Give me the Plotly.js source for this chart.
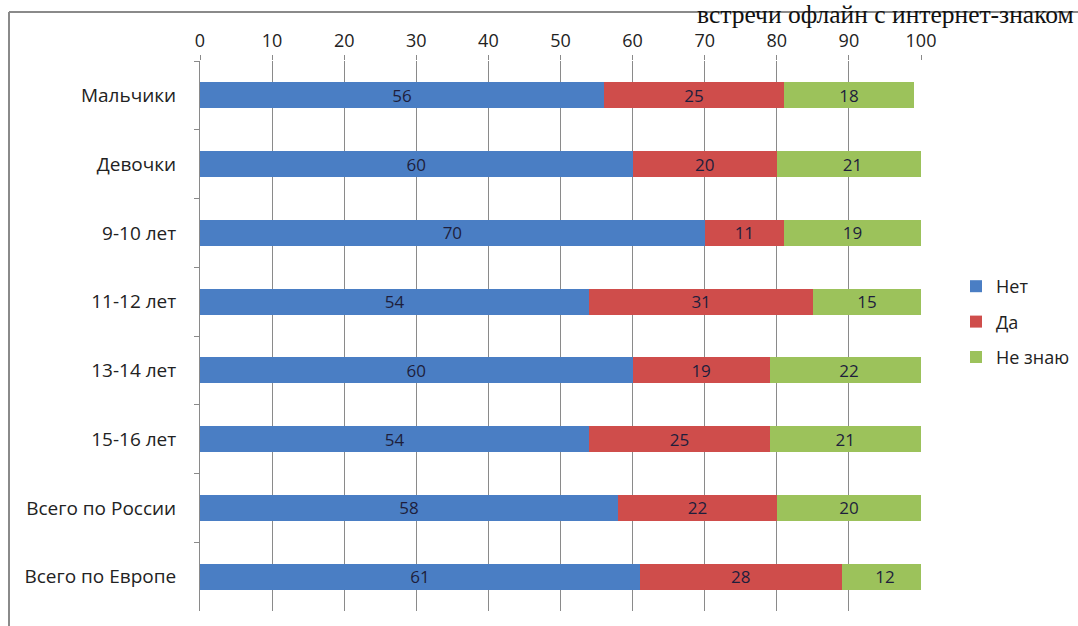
<!DOCTYPE html>
<html>
<head>
<meta charset="utf-8">
<script src="https://cdn.plot.ly/plotly-3.0.1.min.js"></script>
<style>html,body{margin:0;padding:0;background:#fff;}#chart{width:1078px;height:626px;}</style>
</head>
<body>
<div id="chart"></div>
<script>
const categories = ["Мальчики", "Девочки", "9-10 лет", "11-12 лет", "13-14 лет", "15-16 лет", "Всего по России", "Всего по Европе"];
const seriesNames = ["Нет", "Да", "Не знаю"];
const net = [56, 60, 70, 54, 60, 54, 58, 61];
const da = [25, 20, 11, 31, 19, 25, 22, 28];
const neZnayu = [18, 21, 19, 15, 22, 21, 20, 12];
const xTicks = [0, 10, 20, 30, 40, 50, 60, 70, 80, 90, 100];
const titleText = "встречи офлайн с интернет-знаком";

const colors = ["#4a7ec4", "#cf4d4b", "#9cc25b"];
const values = [net, da, neZnayu];
const FONT = "'Open Sans', Lato, sans-serif";

const traces = values.map((v, i) => ({
  type: "bar",
  orientation: "h",
  name: seriesNames[i],
  legendgroup: "g" + i,
  x: v,
  y: categories,
  text: v.map(String),
  textposition: "inside",
  insidetextanchor: "middle",
  textangle: 0,
  constraintext: "none",
  textfont: {family: FONT, size: 17, color: "#1e1e3c"},
  marker: {color: colors[i], line: {width: 0}},
  width: 0.38,
  hoverinfo: "none"
}));

const W = 878; // plot paper width in px
const px = p => (p - 200) / W;
const H = 550;
const py = p => 1 - (p - 61) / H;

const layout = {
  width: 1078,
  height: 626,
  margin: {l: 200, r: 0, t: 61, b: 15, pad: 0, autoexpand: false},
  paper_bgcolor: "#ffffff",
  plot_bgcolor: "#ffffff",
  barmode: "stack",
  font: {family: FONT, size: 17, color: "#222222"},
  xaxis: {
    domain: [0, 721 / W],
    side: "top",
    range: [0, 100],
    tickvals: xTicks,
    ticktext: xTicks.map(String),
    ticks: "outside",
    ticklen: 5,
    tickcolor: "#8a8a8a",
    showgrid: true,
    gridcolor: "#8a8a8a",
    gridwidth: 1,
    zeroline: false,
    showline: false,
    tickfont: {size: 18, color: "#222222"},
    ticklabelstandoff: 1,
    fixedrange: true
  },
  yaxis: {
    type: "category",
    autorange: "reversed",
    ticks: "outside",
    tickson: "boundaries",
    ticklen: 5,
    tickcolor: "#8a8a8a",
    showline: true,
    linecolor: "#8a8a8a",
    linewidth: 1,
    showgrid: false,
    zeroline: false,
    tickfont: {size: 19, color: "#222222"},
    ticklabelstandoff: 19,
    fixedrange: true
  },
  legend: {
    x: px(956),
    xanchor: "left",
    y: py(268),
    yanchor: "top",
    font: {size: 18, color: "#222222"},
    tracegroupgap: 9,
    itemwidth: 30,
    bgcolor: "rgba(0,0,0,0)"
  },
  shapes: [
    {type: "line", xref: "paper", yref: "paper", x0: px(9), x1: px(1078), y0: py(12), y1: py(12), line: {color: "#8a8a8a", width: 2}, layer: "below"},
    {type: "line", xref: "paper", yref: "paper", x0: px(9), x1: px(9), y0: py(12), y1: py(640), line: {color: "#8a8a8a", width: 2}, layer: "below"}
  ],
  annotations: [
    {text: titleText, xref: "paper", yref: "paper", x: px(1076), xanchor: "right", y: py(15), yanchor: "middle",
     showarrow: false, font: {family: "'Liberation Serif', 'DejaVu Serif', serif", size: 25.5, color: "#111111"}, bgcolor: "rgba(255,255,255,0)"}
  ],
  showlegend: true
};

Plotly.newPlot("chart", traces, layout, {displayModeBar: false, staticPlot: true});
</script>
</body>
</html>
